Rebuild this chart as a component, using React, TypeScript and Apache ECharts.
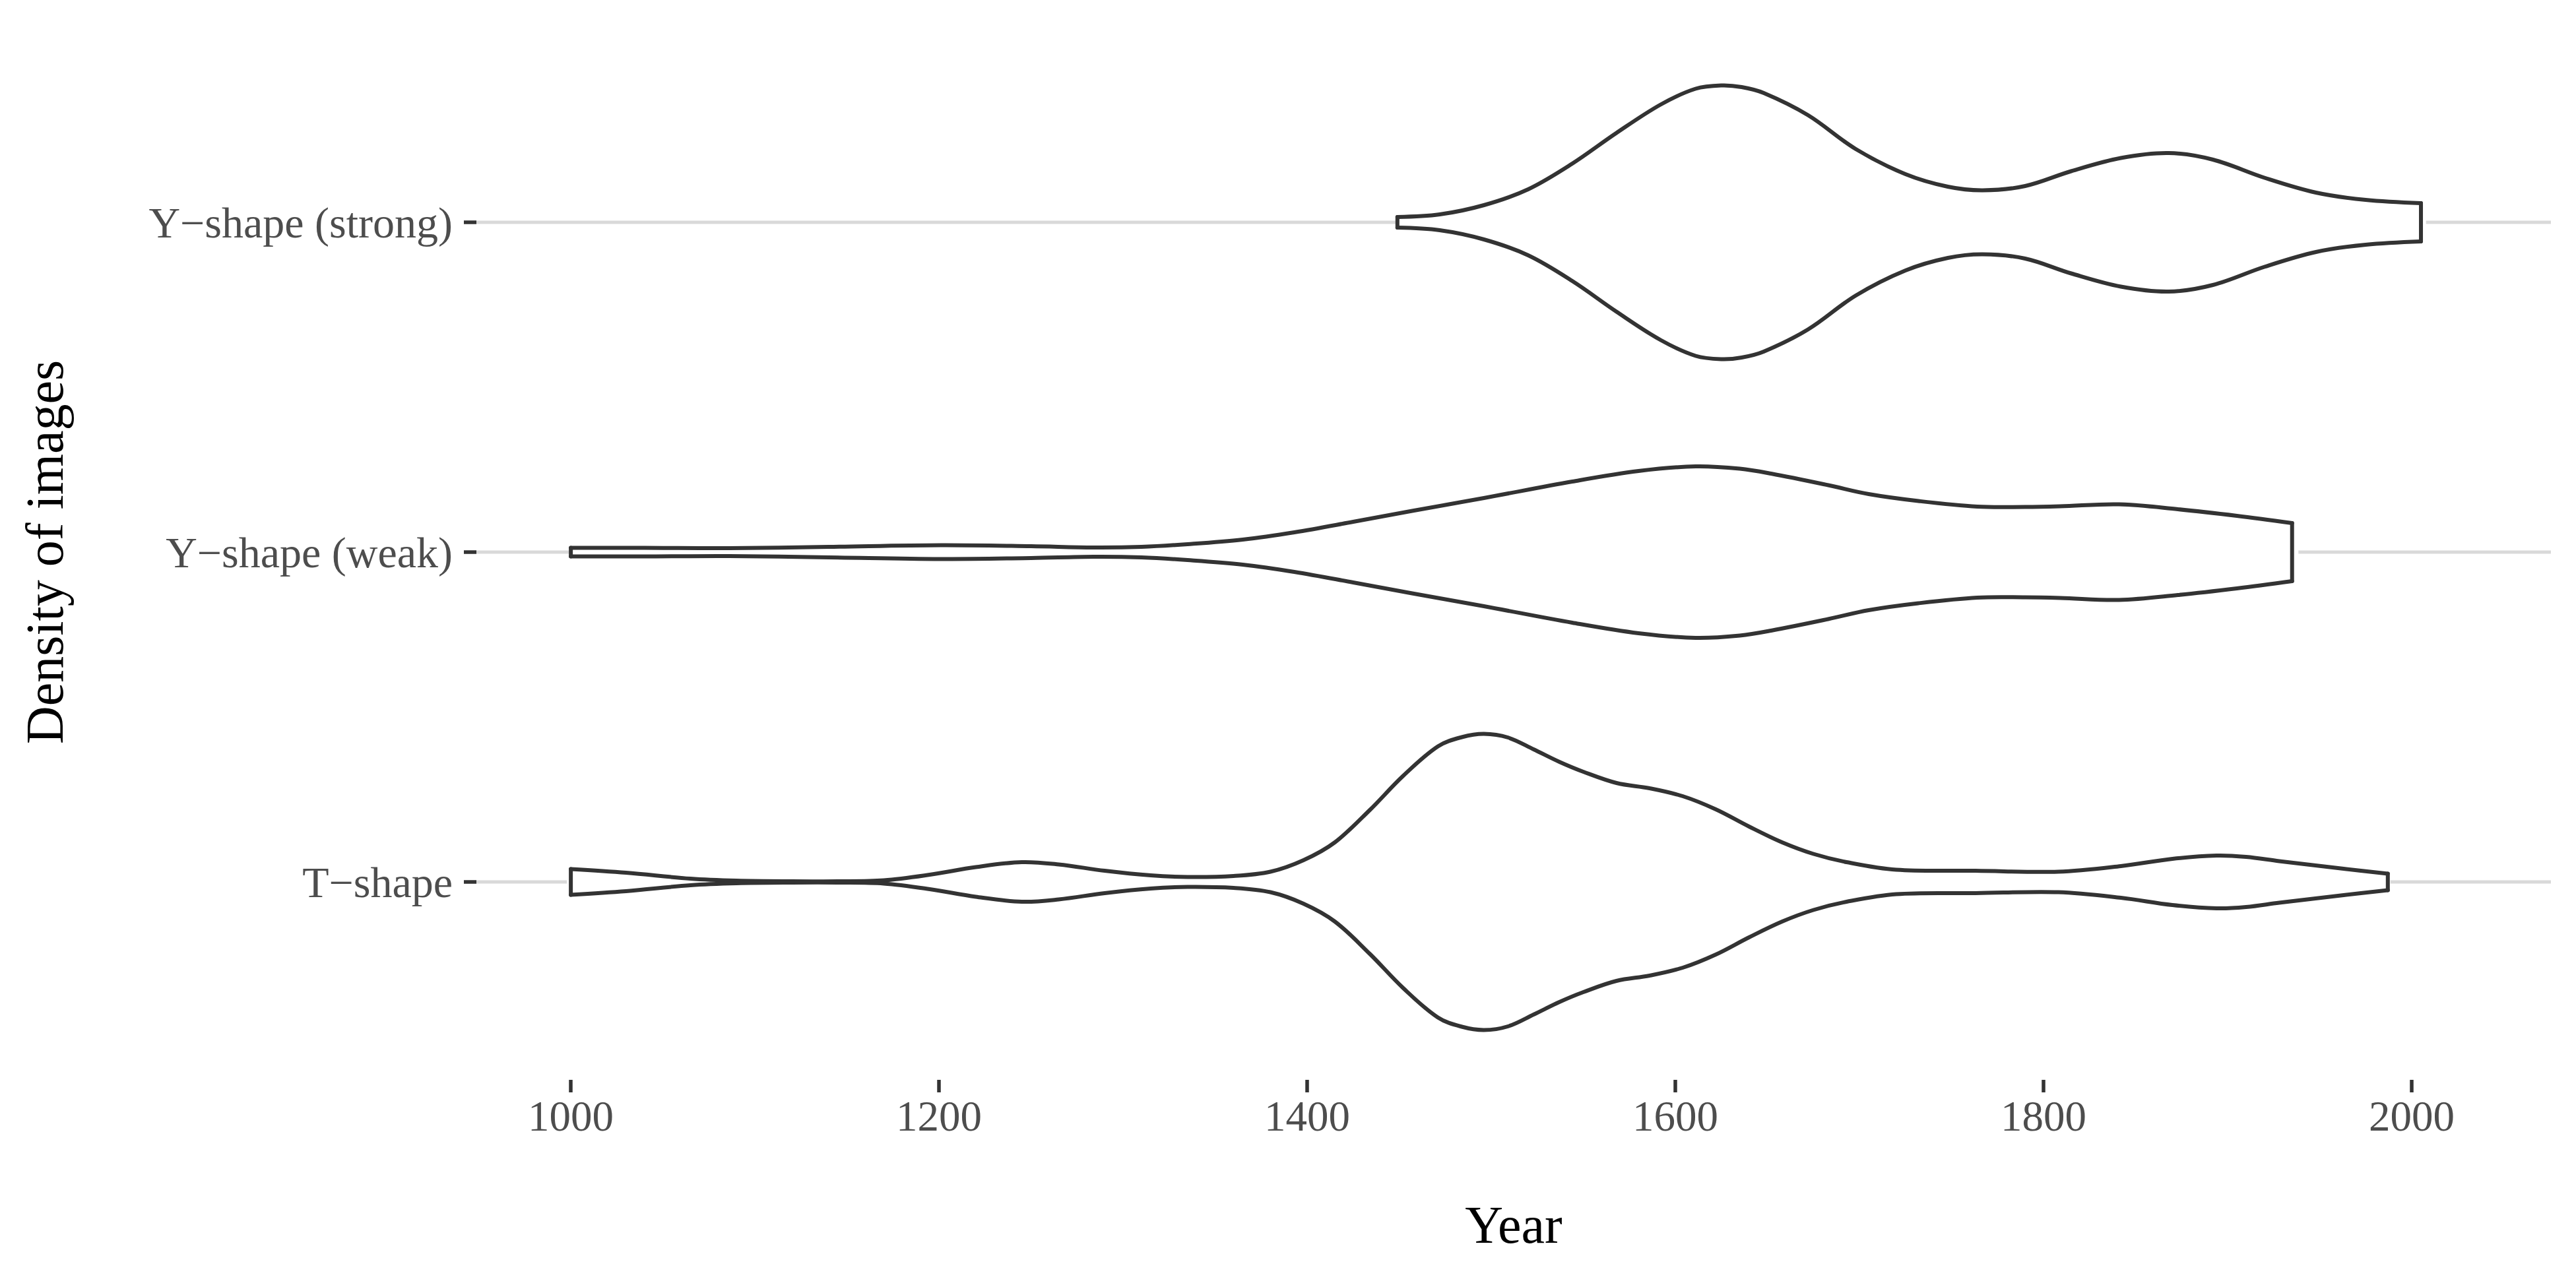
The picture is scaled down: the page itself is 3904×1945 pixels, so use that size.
import React, { useEffect, useRef } from "react";
import * as echarts from "echarts";

// Categories (bottom to top), placed at y = 1, 2, 3
const categories = ["T\u2212shape", "Y\u2212shape (weak)", "Y\u2212shape (strong)"];
const xTicks = [1000, 1200, 1400, 1600, 1800, 2000];
const xRange = [948.7, 2075.6];
const yRange = [0.4, 3.6];

// Violin half-widths (in category units)
const tYears = [1000, 1030, 1065, 1090, 1120, 1145, 1170, 1195, 1220, 1245, 1265, 1290, 1315, 1335, 1360, 1380, 1398, 1415, 1434, 1452, 1471, 1484, 1496, 1509, 1523, 1537, 1550, 1568, 1586, 1604, 1622, 1640, 1658, 1675, 1693, 1720, 1763, 1808, 1842, 1870, 1894, 1910, 1928, 1963, 1987];
const tHalfWidth = [0.039, 0.028, 0.010, 0.004, 0.002, 0.002, 0.005, 0.022, 0.045, 0.060, 0.053, 0.034, 0.020, 0.015, 0.018, 0.031, 0.066, 0.120, 0.218, 0.321, 0.411, 0.439, 0.449, 0.438, 0.402, 0.364, 0.334, 0.300, 0.284, 0.260, 0.220, 0.168, 0.120, 0.085, 0.060, 0.037, 0.034, 0.031, 0.048, 0.070, 0.080, 0.076, 0.063, 0.040, 0.025];

const weakYears = [1000, 1040, 1086, 1140, 1201, 1250, 1284, 1310, 1335, 1365, 1393, 1425, 1457, 1496, 1544, 1580, 1611, 1635, 1652, 1683, 1705, 1732, 1764, 1790, 1809, 1841, 1873, 1905, 1935];
const weakHalfWidth = [0.013, 0.013, 0.012, 0.016, 0.021, 0.018, 0.014, 0.016, 0.024, 0.038, 0.060, 0.092, 0.125, 0.164, 0.214, 0.246, 0.260, 0.253, 0.238, 0.203, 0.176, 0.155, 0.138, 0.137, 0.139, 0.145, 0.130, 0.110, 0.088];

const strongYears = [1449, 1472, 1496, 1520, 1544, 1568, 1592, 1611, 1625, 1636, 1648, 1672, 1698, 1725, 1748, 1767, 1790, 1815, 1842, 1868, 1892, 1920, 1948, 1975, 2005];
const strongHalfWidth = [0.016, 0.024, 0.052, 0.100, 0.178, 0.271, 0.357, 0.405, 0.415, 0.410, 0.392, 0.325, 0.222, 0.146, 0.108, 0.097, 0.110, 0.155, 0.195, 0.210, 0.190, 0.135, 0.090, 0.068, 0.058];

const FONT = "'Liberation Serif', 'Times New Roman', 'DejaVu Serif', serif";

export default function App() {
  const ref = useRef<HTMLDivElement>(null);

  useEffect(() => {
    const chart = echarts.init(ref.current!, null, { renderer: "svg" });

    const violins = [
      { pos: 1, years: tYears, hw: tHalfWidth },
      { pos: 2, years: weakYears, hw: weakHalfWidth },
      { pos: 3, years: strongYears, hw: strongHalfWidth },
    ];

    const series: any[] = [];

    categories.forEach((_, i) => {
      series.push({
        type: "line",
        data: [
          [xRange[0], i + 1],
          [xRange[1], i + 1],
        ],
        symbol: "none",
        silent: true,
        z: 1,
        lineStyle: { color: "#D9D9D9", width: 5 },
      });
    });

    const strokeStyle = {
      stroke: "#333333",
      lineWidth: 6,
      fill: null,
      lineCap: "round",
      lineJoin: "round",
    };

    violins.forEach((v) => {
      series.push({
        type: "custom",
        coordinateSystem: "cartesian2d",
        z: 3,
        silent: true,
        data: v.years.map((yr, i) => [yr, v.pos + v.hw[i], v.pos - v.hw[i]]),
        encode: { x: 0, y: [1, 2] },
        renderItem: (params: any, api: any) => {
          if (params.dataIndexInside !== 0) return null;
          const n = params.dataInsideLength;
          const upper: number[][] = [];
          const lower: number[][] = [];
          for (let i = 0; i < n; i++) {
            const x = api.value(0, i);
            upper.push(api.coord([x, api.value(1, i)]));
            lower.push(api.coord([x, api.value(2, i)]));
          }
          const fillPts = upper.concat(lower.slice().reverse());
          return {
            type: "group",
            children: [
              { type: "polygon", shape: { points: fillPts, smooth: 0.3 }, style: { fill: "#ffffff", stroke: null } },
              { type: "polyline", shape: { points: upper, smooth: 0.35 }, style: strokeStyle },
              { type: "polyline", shape: { points: lower, smooth: 0.35 }, style: strokeStyle },
              {
                type: "line",
                shape: { x1: upper[0][0], y1: upper[0][1], x2: lower[0][0], y2: lower[0][1] },
                style: strokeStyle,
              },
              {
                type: "line",
                shape: { x1: upper[n - 1][0], y1: upper[n - 1][1], x2: lower[n - 1][0], y2: lower[n - 1][1] },
                style: strokeStyle,
              },
            ],
          };
        },
      });
    });

    chart.setOption({
      animation: false,
      backgroundColor: "#ffffff",
      textStyle: { fontFamily: FONT },
      grid: { left: 722, right: 38, top: 37, bottom: 308, containLabel: false },
      xAxis: {
        type: "value",
        min: xRange[0],
        max: xRange[1],
        name: "Year",
        nameLocation: "middle",
        nameGap: 180,
        nameTextStyle: { fontFamily: FONT, fontSize: 80, color: "#000000" },
        axisLine: { show: false },
        splitLine: { show: false },
        axisTick: {
          show: true,
          length: 19,
          customValues: xTicks,
          lineStyle: { color: "#333333", width: 5.5 },
        },
        axisLabel: {
          customValues: xTicks,
          margin: 22,
          fontFamily: FONT,
          fontSize: 65,
          color: "#4D4D4D",
          formatter: (val: number) => String(Math.round(val)),
        },
      },
      yAxis: {
        type: "value",
        min: yRange[0],
        max: yRange[1],
        name: "Density of images",
        nameLocation: "middle",
        nameRotate: 90,
        nameGap: 614,
        nameTextStyle: { fontFamily: FONT, fontSize: 80, color: "#000000" },
        axisLine: { show: false },
        splitLine: { show: false },
        axisTick: {
          show: true,
          length: 19,
          customValues: [1, 2, 3],
          lineStyle: { color: "#333333", width: 5.5 },
        },
        axisLabel: {
          customValues: [1, 2, 3],
          margin: 36,
          fontFamily: FONT,
          fontSize: 66,
          color: "#4D4D4D",
          formatter: (val: number) => categories[Math.round(val) - 1] ?? "",
        },
      },
      series,
    });

    return () => chart.dispose();
  }, []);

  return (
    <div
      ref={ref}
      style={{ position: "fixed", left: 0, top: 0, width: "3904px", height: "1945px", background: "#fff" }}
    />
  );
}
